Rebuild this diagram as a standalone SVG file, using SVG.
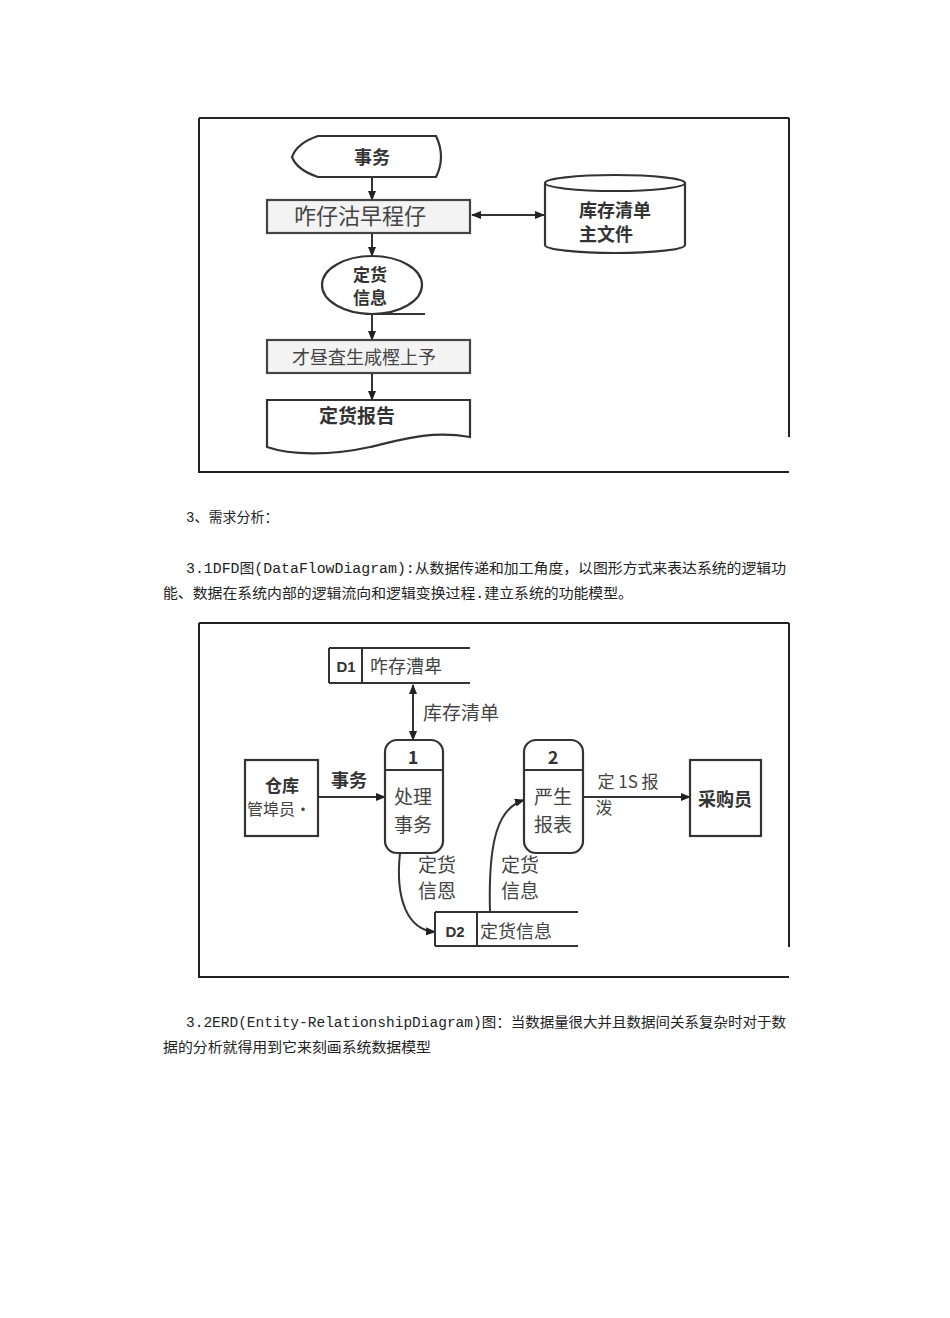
<svg xmlns="http://www.w3.org/2000/svg" width="950" height="1318" viewBox="0 0 950 1318">
<style>
.frame{stroke:#222;stroke-width:2;fill:none}
.sh{stroke:#333;stroke-width:2.2;fill:#fff}
.box{stroke:#444;stroke-width:2.2;fill:#f3f3f3}
.ln{stroke:#333;stroke-width:2;fill:none}
.b{font-family:"Noto Sans CJK SC",sans-serif;font-weight:bold;fill:#333;text-anchor:middle}
.r{font-family:"Noto Sans CJK SC",sans-serif;fill:#444;text-anchor:middle}
.p{font-family:"Liberation Mono","Noto Sans CJK SC",monospace;font-size:14px;fill:#222}
</style>
<defs>
<marker id="ah" viewBox="0 0 10 10" refX="9" refY="5" markerWidth="10" markerHeight="10" markerUnits="userSpaceOnUse" orient="auto-start-reverse"><path d="M0 1 L10 5 L0 9 Z" fill="#222"/></marker>
</defs>
<rect width="950" height="1318" fill="#fff"/>

<g id="frame1">
<path class="frame" d="M199 118 H789 M199 118 V472 H789 M789 118 V437"/>
</g>
<g id="frame2">
<path class="frame" d="M199 623 H789 M199 623 V977 H789 M789 623 V947"/>
</g>

<g id="connectors">
<line class="ln" x1="372" y1="178" x2="372" y2="200" marker-end="url(#ah)"/>
<line class="ln" x1="472" y1="215" x2="544" y2="215" marker-start="url(#ah)" marker-end="url(#ah)"/>
<line class="ln" x1="372" y1="234" x2="372" y2="256" marker-end="url(#ah)"/>
<line class="ln" x1="365" y1="314" x2="425" y2="314"/>
<line class="ln" x1="372" y1="314" x2="372" y2="340" marker-end="url(#ah)"/>
<line class="ln" x1="372" y1="374" x2="372" y2="400" marker-end="url(#ah)"/>
<line class="ln" x1="413" y1="685" x2="413" y2="740" marker-start="url(#ah)" marker-end="url(#ah)"/>
<line class="ln" x1="318" y1="797" x2="385" y2="797" marker-end="url(#ah)"/>
<line class="ln" x1="583" y1="797" x2="690" y2="797" marker-end="url(#ah)"/>
<path class="ln" d="M400 853 C395 900 408 930 435 932" marker-end="url(#ah)"/>
<path class="ln" d="M490 912 C488 840 498 808 524 800" marker-end="url(#ah)"/>
</g>

<g id="n-shiwu">
<path class="sh" d="M318 136 H436 Q446 157 436 177 H318 Q297 170 292 157 Q297 143 318 136 Z"/>
<text class="b" x="372" y="164" font-size="18">事务</text>
</g>
<g id="n-proc1">
<rect class="box" x="267" y="200" width="203" height="33"/>
<text class="r" x="360" y="224" font-size="22" fill="#222">咋仔沽早程仔</text>
</g>
<g id="n-file">
<path class="sh" d="M545 183 A70 8 0 0 1 685 183 V245 A70 8 0 0 1 545 245 Z"/>
<path class="ln" d="M545 183 A70 8 0 0 0 685 183"/>
<text class="b" x="615" y="217" font-size="18">库存清单</text>
<text class="b" x="606" y="241" font-size="18">主文件</text>
</g>
<g id="n-info">
<ellipse class="sh" cx="372" cy="285" rx="50" ry="29"/>
<text class="b" x="370" y="281" font-size="17">定货</text>
<text class="b" x="370" y="304" font-size="17">信息</text>
</g>
<g id="n-proc2">
<rect class="box" x="267" y="340" width="203" height="33"/>
<text class="r" x="364" y="364" font-size="18" fill="#333">才昼査生咸樫上予</text>
</g>
<g id="n-report">
<path class="sh" d="M267 400 H470 V437 C430 430 400 440 370 447 C330 456 290 455 267 447 Z"/>
<text class="b" x="357" y="423" font-size="19">定货报告</text>
</g>

<g id="texts">
<text class="p" x="186" y="522">3、需求分析：</text>
<text class="p" x="186" y="573" textLength="600" lengthAdjust="spacingAndGlyphs">3.1DFD图(DataFlowDiagram):从数据传递和加工角度，以图形方式来表达系统的逻辑功</text>
<text class="p" x="163" y="598" textLength="470" lengthAdjust="spacingAndGlyphs">能、数据在系统内部的逻辑流向和逻辑变换过程.建立系统的功能模型。</text>
<text class="p" x="186" y="1027" textLength="600" lengthAdjust="spacingAndGlyphs">3.2ERD(Entity-RelationshipDiagram)图：当数据量很大并且数据间关系复杂时对于数</text>
<text class="p" x="163" y="1052" textLength="268" lengthAdjust="spacingAndGlyphs">据的分析就得用到它来刻画系统数据模型</text>
</g>

<g id="n-d1">
<path class="ln" stroke-width="2.5" d="M329 648 H470 M329 683 H470 M329 648 V683 M362 648 V683"/>
<text x="346" y="672" font-family="Liberation Sans,sans-serif" font-size="15" font-weight="bold" fill="#333" text-anchor="middle">D1</text>
<text class="r" x="406" y="673" font-size="18">咋存漕卑</text>
</g>
<text class="r" x="461" y="720" font-size="19">库存清单</text>

<g id="n-p1">
<rect class="sh" x="385" y="740" width="58" height="113" rx="12"/>
<line class="ln" x1="385" y1="770" x2="443" y2="770"/>
<text class="b" x="413" y="764" font-size="18">1</text>
<text class="r" x="413" y="804" font-size="19">处理</text>
<text class="r" x="413" y="832" font-size="19">事务</text>
</g>
<g id="n-keeper">
<rect class="sh" x="245" y="760" width="73" height="76"/>
<text class="b" x="282" y="792" font-size="17">仓库</text>
<text class="r" x="279" y="815" font-size="16">管埠员•</text>
</g>
<text class="b" x="349" y="787" font-size="18">事务</text>

<g id="n-p2">
<rect class="sh" x="524" y="740" width="59" height="113" rx="12"/>
<line class="ln" x1="524" y1="770" x2="583" y2="770"/>
<text class="b" x="553" y="764" font-size="18">2</text>
<text class="r" x="553" y="804" font-size="19">严生</text>
<text class="r" x="553" y="832" font-size="19">报表</text>
</g>
<text class="r" x="628" y="788" font-size="17">定 1S 报</text>
<text class="r" x="604" y="814" font-size="17">泼</text>

<g id="n-buyer">
<rect class="sh" x="690" y="760" width="71" height="76"/>
<text class="b" x="725" y="806" font-size="18">采购员</text>
</g>

<text class="r" x="437" y="872" font-size="19">定货</text>
<text class="r" x="437" y="898" font-size="19">信恩</text>
<text class="r" x="520" y="872" font-size="19">定货</text>
<text class="r" x="520" y="898" font-size="19">信息</text>

<g id="n-d2">
<path class="ln" stroke-width="2.5" d="M435 912 H578 M435 946 H578 M435 912 V946 M477 912 V946"/>
<text x="455" y="937" font-family="Liberation Sans,sans-serif" font-size="15" font-weight="bold" fill="#333" text-anchor="middle">D2</text>
<text class="r" x="516" y="938" font-size="18">定货信息</text>
</g>
</svg>
